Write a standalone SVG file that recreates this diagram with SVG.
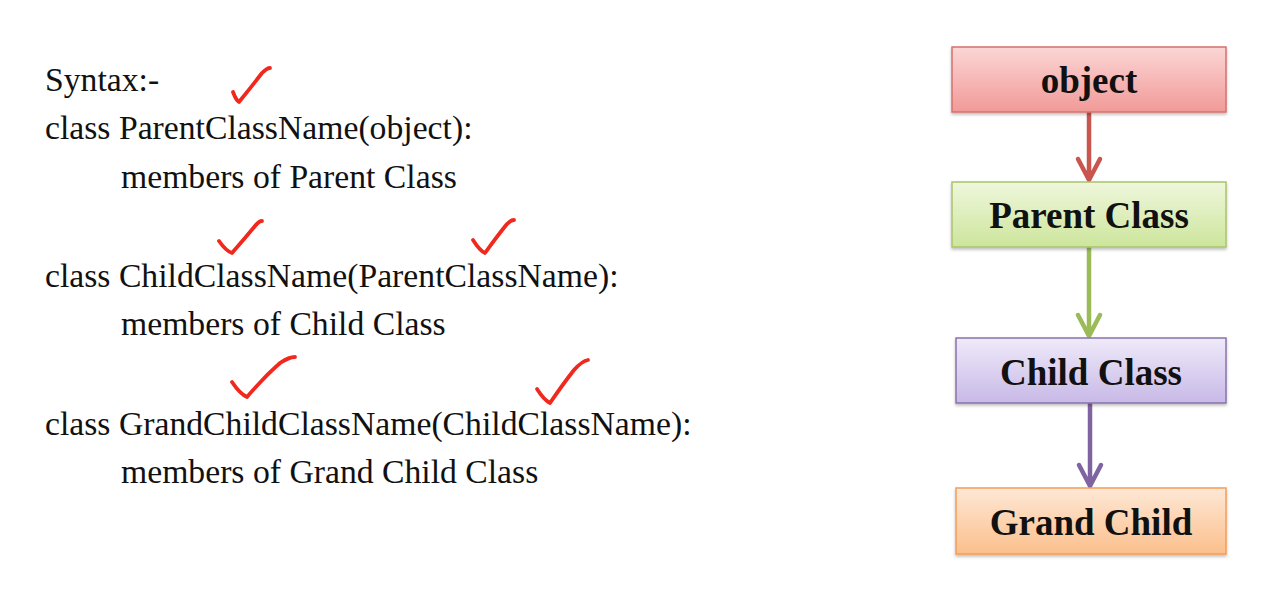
<svg xmlns="http://www.w3.org/2000/svg" width="1287" height="611" viewBox="0 0 1287 611">
<style>
.code{font-family:"Liberation Serif","Times New Roman",serif;font-size:33.7px;fill:#111;}
.lbl{font-family:"Liberation Serif","Times New Roman",serif;font-size:37px;font-weight:bold;fill:#111;text-anchor:middle;}
.tick{fill:none;stroke:#f0281e;stroke-width:3.8;stroke-linecap:round;stroke-linejoin:round;}
.conn{fill:none;stroke-width:4.5;stroke-linecap:round;stroke-linejoin:round;}
</style>
<defs>
<linearGradient id="gRed" x1="0" y1="0" x2="0" y2="1"><stop offset="0" stop-color="#fbd6d5"/><stop offset="1" stop-color="#f19a98"/></linearGradient>
<linearGradient id="gGreen" x1="0" y1="0" x2="0" y2="1"><stop offset="0" stop-color="#eff7dc"/><stop offset="1" stop-color="#cde59c"/></linearGradient>
<linearGradient id="gPurple" x1="0" y1="0" x2="0" y2="1"><stop offset="0" stop-color="#efeafa"/><stop offset="1" stop-color="#c8b9e6"/></linearGradient>
<linearGradient id="gOrange" x1="0" y1="0" x2="0" y2="1"><stop offset="0" stop-color="#fee8d6"/><stop offset="1" stop-color="#fbbf8c"/></linearGradient>
<filter id="sh" x="-5%" y="-10%" width="110%" height="130%"><feDropShadow dx="0" dy="2" stdDeviation="1.5" flood-color="#000" flood-opacity="0.25"/></filter>
</defs>
<rect width="1287" height="611" fill="#ffffff"/>
<g id="syntax">
<text class="code" x="45" y="91">Syntax:-</text>
<text class="code" x="45" y="139">class ParentClassName(object):</text>
<text class="code" x="121" y="188">members of Parent Class</text>
<text class="code" x="45" y="287">class ChildClassName(ParentClassName):</text>
<text class="code" x="121" y="335">members of Child Class</text>
<text class="code" x="45" y="435">class GrandChildClassName(ChildClassName):</text>
<text class="code" x="121" y="483">members of Grand Child Class</text>
</g>
<g id="ticks">
<path class="tick" d="M233,92 Q236,100 239,102 Q252,86 262,73 Q267,68 270,68"/>
<path class="tick" d="M219,241 Q226,251 232,253 Q246,237 255,226 Q259,221 262,221"/>
<path class="tick" d="M473,240 Q480,251 485,253 Q498,235 507,224 Q511,220 514,220"/>
<path class="tick" d="M232,382 Q240,394 247,397 Q264,377 280,363 Q289,357 295,357"/>
<path class="tick" d="M537,389 Q544,400 550,403 Q563,384 574,370 Q582,361 588,360"/>
</g>
<g id="connectors">
<path class="conn" stroke="#c9554f" d="M1089,112 V180 M1078,159 L1089,180 L1100,159"/>
<path class="conn" stroke="#9bbb59" d="M1089,247 V336 M1078,315 L1089,336 L1100,315"/>
<path class="conn" stroke="#8064a2" d="M1090,403 V486 M1079,465 L1090,486 L1101,465"/>
</g>
<g id="node-object">
<rect x="952" y="47" width="274" height="65" fill="url(#gRed)" stroke="#d6706d" stroke-width="1.5" filter="url(#sh)"/>
<text class="lbl" x="1089" y="93">object</text>
</g>
<g id="node-parent">
<rect x="952" y="182" width="274" height="65" fill="url(#gGreen)" stroke="#a9c46b" stroke-width="1.5" filter="url(#sh)"/>
<text class="lbl" x="1089" y="228">Parent Class</text>
</g>
<g id="node-child">
<rect x="956" y="338" width="270" height="65" fill="url(#gPurple)" stroke="#8a72ac" stroke-width="1.5" filter="url(#sh)"/>
<text class="lbl" x="1091" y="385">Child Class</text>
</g>
<g id="node-grandchild">
<rect x="956" y="488" width="270" height="66" fill="url(#gOrange)" stroke="#f59d55" stroke-width="1.5" filter="url(#sh)"/>
<text class="lbl" x="1091" y="535">Grand Child</text>
</g>
</svg>
